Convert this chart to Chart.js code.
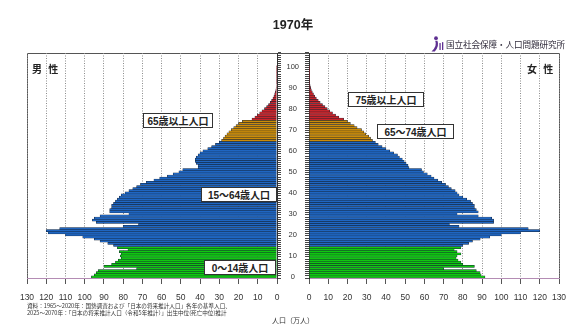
<!DOCTYPE html>
<html lang="ja">
<head>
<meta charset="utf-8">
<title>人口ピラミッド 1970年</title>
<script src="https://cdn.jsdelivr.net/npm/chart.js@4/dist/chart.umd.min.js"></script>
<style>
  html, body { margin: 0; padding: 0; background: #fff; }
  body {
    width: 586px; height: 331px; position: relative; overflow: hidden;
    font-family: "Liberation Sans", "Noto Sans CJK JP", sans-serif; color: #222;
  }
  canvas { position: absolute; top: 0; }
  #male { left: 0; }
  #female { left: 278px; }
  .frame {
    position: absolute; left: 27px; top: 53px; width: 533px; height: 226px;
    box-sizing: border-box; border: 1px solid #555; border-bottom: none;
  }
  .title {
    position: absolute; left: 0; width: 586px; top: 18px; text-align: center;
    font-weight: bold; font-size: 12.5px; line-height: 14px;
  }
  .logo { position: absolute; left: 431px; top: 36px; height: 16px; display: flex; align-items: center; }
  .logo span { font-family: "Noto Sans CJK JP", sans-serif; font-size: 8.6px; color: #2f2a3a; margin-left: 2px; letter-spacing: -0.1px; }
  .sex { position: absolute; top: 61px; font-family: "Noto Sans CJK JP", sans-serif; font-weight: bold; font-size: 10px; word-spacing: 4px; }
  .tag {
    position: absolute; box-sizing: border-box; height: 15px; background: #fff;
    border: 1px solid #333; display: flex; align-items: center; justify-content: center;
    font-family: "Liberation Sans", "Noto Sans CJK JP", sans-serif; font-size: 10px; font-weight: bold; color: #222;
  }
  .note { position: absolute; left: 27px; top: 303px; font-family: "Noto Sans CJK JP", sans-serif; font-size: 5.6px; line-height: 6.5px; color: #333; white-space: nowrap; }
  .unit { position: absolute; left: 0; width: 586px; top: 315px; text-align: center; font-family: "Noto Sans CJK JP", sans-serif; font-size: 7px; color: #333; }
</style>
</head>
<body>
<div class="frame"></div>
<canvas id="male" width="293" height="331"></canvas>
<canvas id="female" width="308" height="331"></canvas>

<div class="title">1970年</div>
<div class="logo">
  <svg width="13" height="16" viewBox="0 0 13 16">
    <circle cx="5" cy="2.2" r="1.9" fill="#5e2f91"/>
    <path d="M4.2 4.8 Q6.5 10 0.5 15.5 L3.8 15.5 Q8.6 10 6.4 4.8 Z" fill="#5e2f91"/>
    <rect x="8.4" y="7" width="1.3" height="7" rx="0.6" fill="#5e2f91"/>
    <rect x="11" y="6" width="1.3" height="8" rx="0.6" fill="#5e2f91"/>
  </svg>
  <span>国立社会保障・人口問題研究所</span>
</div>
<div class="sex" style="left:32px;">男 性</div>
<div class="sex" style="left:527px;">女 性</div>

<div class="tag" style="left:143px; top:113px; width:70px;">65歳以上人口</div>
<div class="tag" style="left:348px; top:92px; width:76px;">75歳以上人口</div>
<div class="tag" style="left:377px; top:124px; width:77px;">65～74歳人口</div>
<div class="tag" style="left:201px; top:187px; width:76px;">15～64歳人口</div>
<div class="tag" style="left:204px; top:260px; width:72px;">0～14歳人口</div>

<div class="note">資料：1965～2020年：国勢調査および「日本の将来推計人口」各年の基準人口、<br>2025～2070年：「日本の将来推計人口（令和5年推計）」出生中位(死亡中位)推計</div>
<div class="unit">人口（万人）</div>

<script>
Chart.defaults.font.family = '"Liberation Sans", "Noto Sans CJK JP", sans-serif';
Chart.defaults.color = "#333";

/* age categories 0..106 (bars only for 0..100, the rest is headroom) */
const ages = Array.from({ length: 107 }, (_, i) => String(i));
const ageTicks = [0, 10, 20, 30, 40, 50, 60, 70, 80, 90, 100];
const popTicks = [0, 10, 20, 30, 40, 50, 60, 70, 80, 90, 100, 110, 120, 130];

/* population by single year of age, 万人 */
const male = [
  96.5, 95, 94, 93, 73, 90, 86, 84, 82.5, 81,
  81.5, 81, 82, 77.5, 83, 85, 88, 92, 95, 101,
  110, 119, 120, 113, 80, 72, 94, 96, 95, 92,
  77, 87, 87, 86, 86, 85, 84, 83, 82, 81,
  79, 77, 75, 73, 71, 68, 64, 61, 57, 54,
  51, 49, 41, 41, 42, 42.5, 42.5, 42, 41, 40,
  38.5, 36, 34, 32, 30, 28.8, 27.8, 27, 26, 25,
  23.8, 22.5, 21.3, 20, 18, 13, 11.5, 10.2, 9, 7.8,
  6.5, 5.4, 4.4, 3.5, 2.8, 2.1, 1.6, 1.2, 0.85, 0.6,
  0.4, 0.28, 0.18, 0.12, 0.08, 0.05, 0.03, 0.02, 0.01, 0.01,
  0.01
];
const female = [
  91.5, 89.5, 89, 87, 70, 86, 80, 79, 77.5, 76.5,
  77, 79, 77, 75.5, 79, 80, 83, 85, 89, 94,
  100, 110, 120, 114, 78, 73, 96, 96, 95, 88,
  77, 88, 87, 86, 86, 85, 84, 82, 80, 78,
  77, 76, 74, 72.5, 71, 69, 67, 65, 63.5, 61.5,
  59.5, 58.5, 52, 51.5, 50.5, 49.5, 48.5, 47, 46, 44,
  42, 40, 38, 36, 34.5, 33, 32, 31, 29.5, 28.5,
  27.3, 25, 23.5, 21.5, 20, 18, 15.5, 13.8, 12.2, 10.8,
  9.5, 8.3, 7, 5.8, 4.8, 3.8, 3, 2.3, 1.7, 1.2,
  0.85, 0.6, 0.4, 0.27, 0.18, 0.12, 0.08, 0.05, 0.03, 0.02,
  0.02
];

// age group colours: 0-14 green, 15-64 blue, 65-74 orange, 75+ red
function groupColor(age) {
  if (age < 15) return "#10c810";
  if (age < 65) return "#1f66c2";
  if (age < 75) return "#cc8c08";
  return "#c8252b";
}
const barColors = male.map((_, i) => groupColor(i));

function pyramidSide(canvasId, values, isMale) {
  return new Chart(document.getElementById(canvasId), {
    type: "bar",
    data: {
      labels: ages,
      datasets: [{
        data: values,
        backgroundColor: barColors,
        borderColor: "#142033",
        borderWidth: 0.5,
        borderSkipped: "start",
        barPercentage: 1,
        categoryPercentage: 1
      }]
    },
    options: {
      indexAxis: "y",
      responsive: false,
      animation: false,
      layout: {
        padding: isMale
          ? { left: 27, top: 53, right: 0, bottom: 0 }
          : { left: 0, top: 53, right: 27, bottom: 0 }
      },
      plugins: { legend: { display: false }, tooltip: { enabled: false } },
      scales: {
        x: {
          min: 0,
          max: 130,
          reverse: isMale,
          afterBuildTicks: s => { s.ticks = popTicks.map(v => ({ value: v })); },
          ticks: { font: { size: 8.5 }, color: "#333", padding: 9, maxRotation: 0 },
          grid: { color: "#8c8c8c", lineWidth: 1, tickLength: 6, tickColor: "#555", tickBorderDash: [] },
          border: { color: "#b48cb4", width: 1, dash: [1, 1.5] },
          afterFit: s => { s.height = 53; }
        },
        y: {
          type: "category",
          position: isMale ? "right" : "left",
          reverse: true,
          grid: { drawOnChartArea: false, tickLength: 4, tickColor: "#444" },
          border: { color: "#333", width: 1 },
          ticks: {
            display: !isMale,
            autoSkip: false,
            crossAlign: "center",
            padding: 6,
            font: { size: 7.5 },
            color: "#333",
            callback: (v, i) => ageTicks.includes(i) ? ages[i] : ""
          },
          afterFit: s => { s.width = isMale ? 16 : 31; }
        }
      }
    }
  });
}

pyramidSide("male", male, true);
pyramidSide("female", female, false);
</script>
</body>
</html>
